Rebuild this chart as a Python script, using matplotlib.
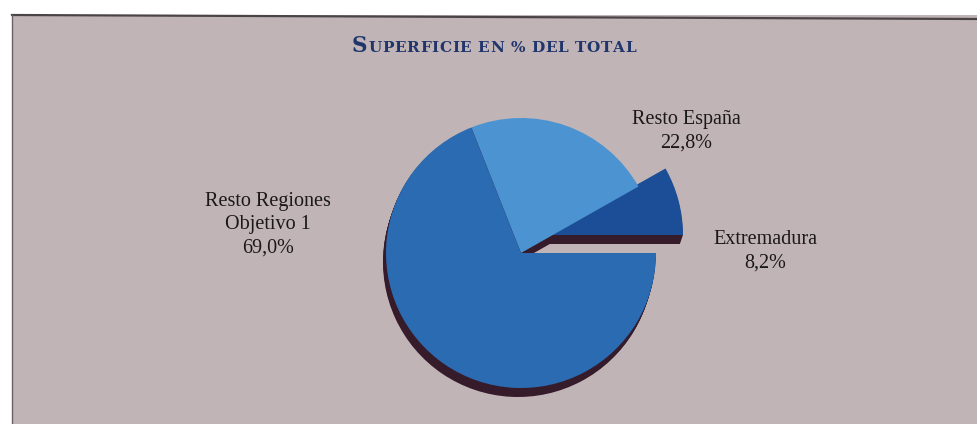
import matplotlib.pyplot as plt
from matplotlib.patches import Rectangle

regiones = ["Extremadura", "Resto España", "Resto Regiones\nObjetivo 1"]
porcentajes = [8.2, 22.8, 69.0]
colores = ["#1c4e97", "#4c94d1", "#2a6bb2"]
sombra = "#361b2b"

W, H = 978, 424
fig = plt.figure(figsize=(W / 100, H / 100), dpi=100)
fig.patch.set_facecolor("white")
ax = fig.add_axes([0, 0, 1, 1])

# recuadro de fondo
ax.add_patch(Rectangle((12, 0), W - 12, H - 15, facecolor="#c0b4b6",
                       edgecolor="none", zorder=0))
ax.plot([12, W], [H - 15, H - 19], color="#4a4448", lw=1.6, zorder=1)
ax.plot([12, 12], [0, H - 15], color="#6a6266", lw=1.0, zorder=1)

cx, cy, r = 521, H - 253, 135
sep = (27, 18)  # Extremadura separada del resto


def tarta(dx, dy, cols, z):
    cuñas, _ = ax.pie(porcentajes, colors=cols, startangle=0, counterclock=True,
                      radius=r, center=(cx + dx, cy + dy), frame=True,
                      wedgeprops=dict(linewidth=0, zorder=z))
    cuñas[0].set_center((cx + dx + sep[0], cy + dy + sep[1]))
    return cuñas


# grosor (efecto 3D)
for k in range(1, 11):
    tarta(-0.3 * k, -0.9 * k, [sombra] * 3, 2)
tarta(0, 0, colores, 3)

ax.set_xlim(0, W)
ax.set_ylim(0, H)
ax.set_aspect("auto")
ax.axis("off")

# etiquetas
fmt = lambda v: f"{v:.1f}".replace(".", ",") + "%"
pos = [(765, H - 251), (686, H - 131), (268, H - 225)]
for nom, v, (x, y) in zip(regiones, porcentajes, pos):
    ax.text(x, y, nom + "\n" + fmt(v), ha="center", va="center",
            fontsize=14.5, family="Liberation Serif", color="#1b1818",
            linespacing=1.3, zorder=5)

# título en versalitas, letra a letra
fig.canvas.draw()
ren = fig.canvas.get_renderer()
x, yb = 352, H - 52
azul = "#1f356c"
estilo = dict(family="DejaVu Serif", weight="bold", color=azul,
              va="baseline", zorder=5)
t = ax.text(x, yb, "S", fontsize=15.5, **estilo)
x = t.get_window_extent(ren).x1 + 1
for c in "UPERFICIE EN % DEL TOTAL":
    if c == " ":
        x += 6
        continue
    t = ax.text(x, yb, c, fontsize=11, **estilo)
    x = t.get_window_extent(ren).x1 + 0.6

fig.savefig("out.png", dpi=100, facecolor="white")
